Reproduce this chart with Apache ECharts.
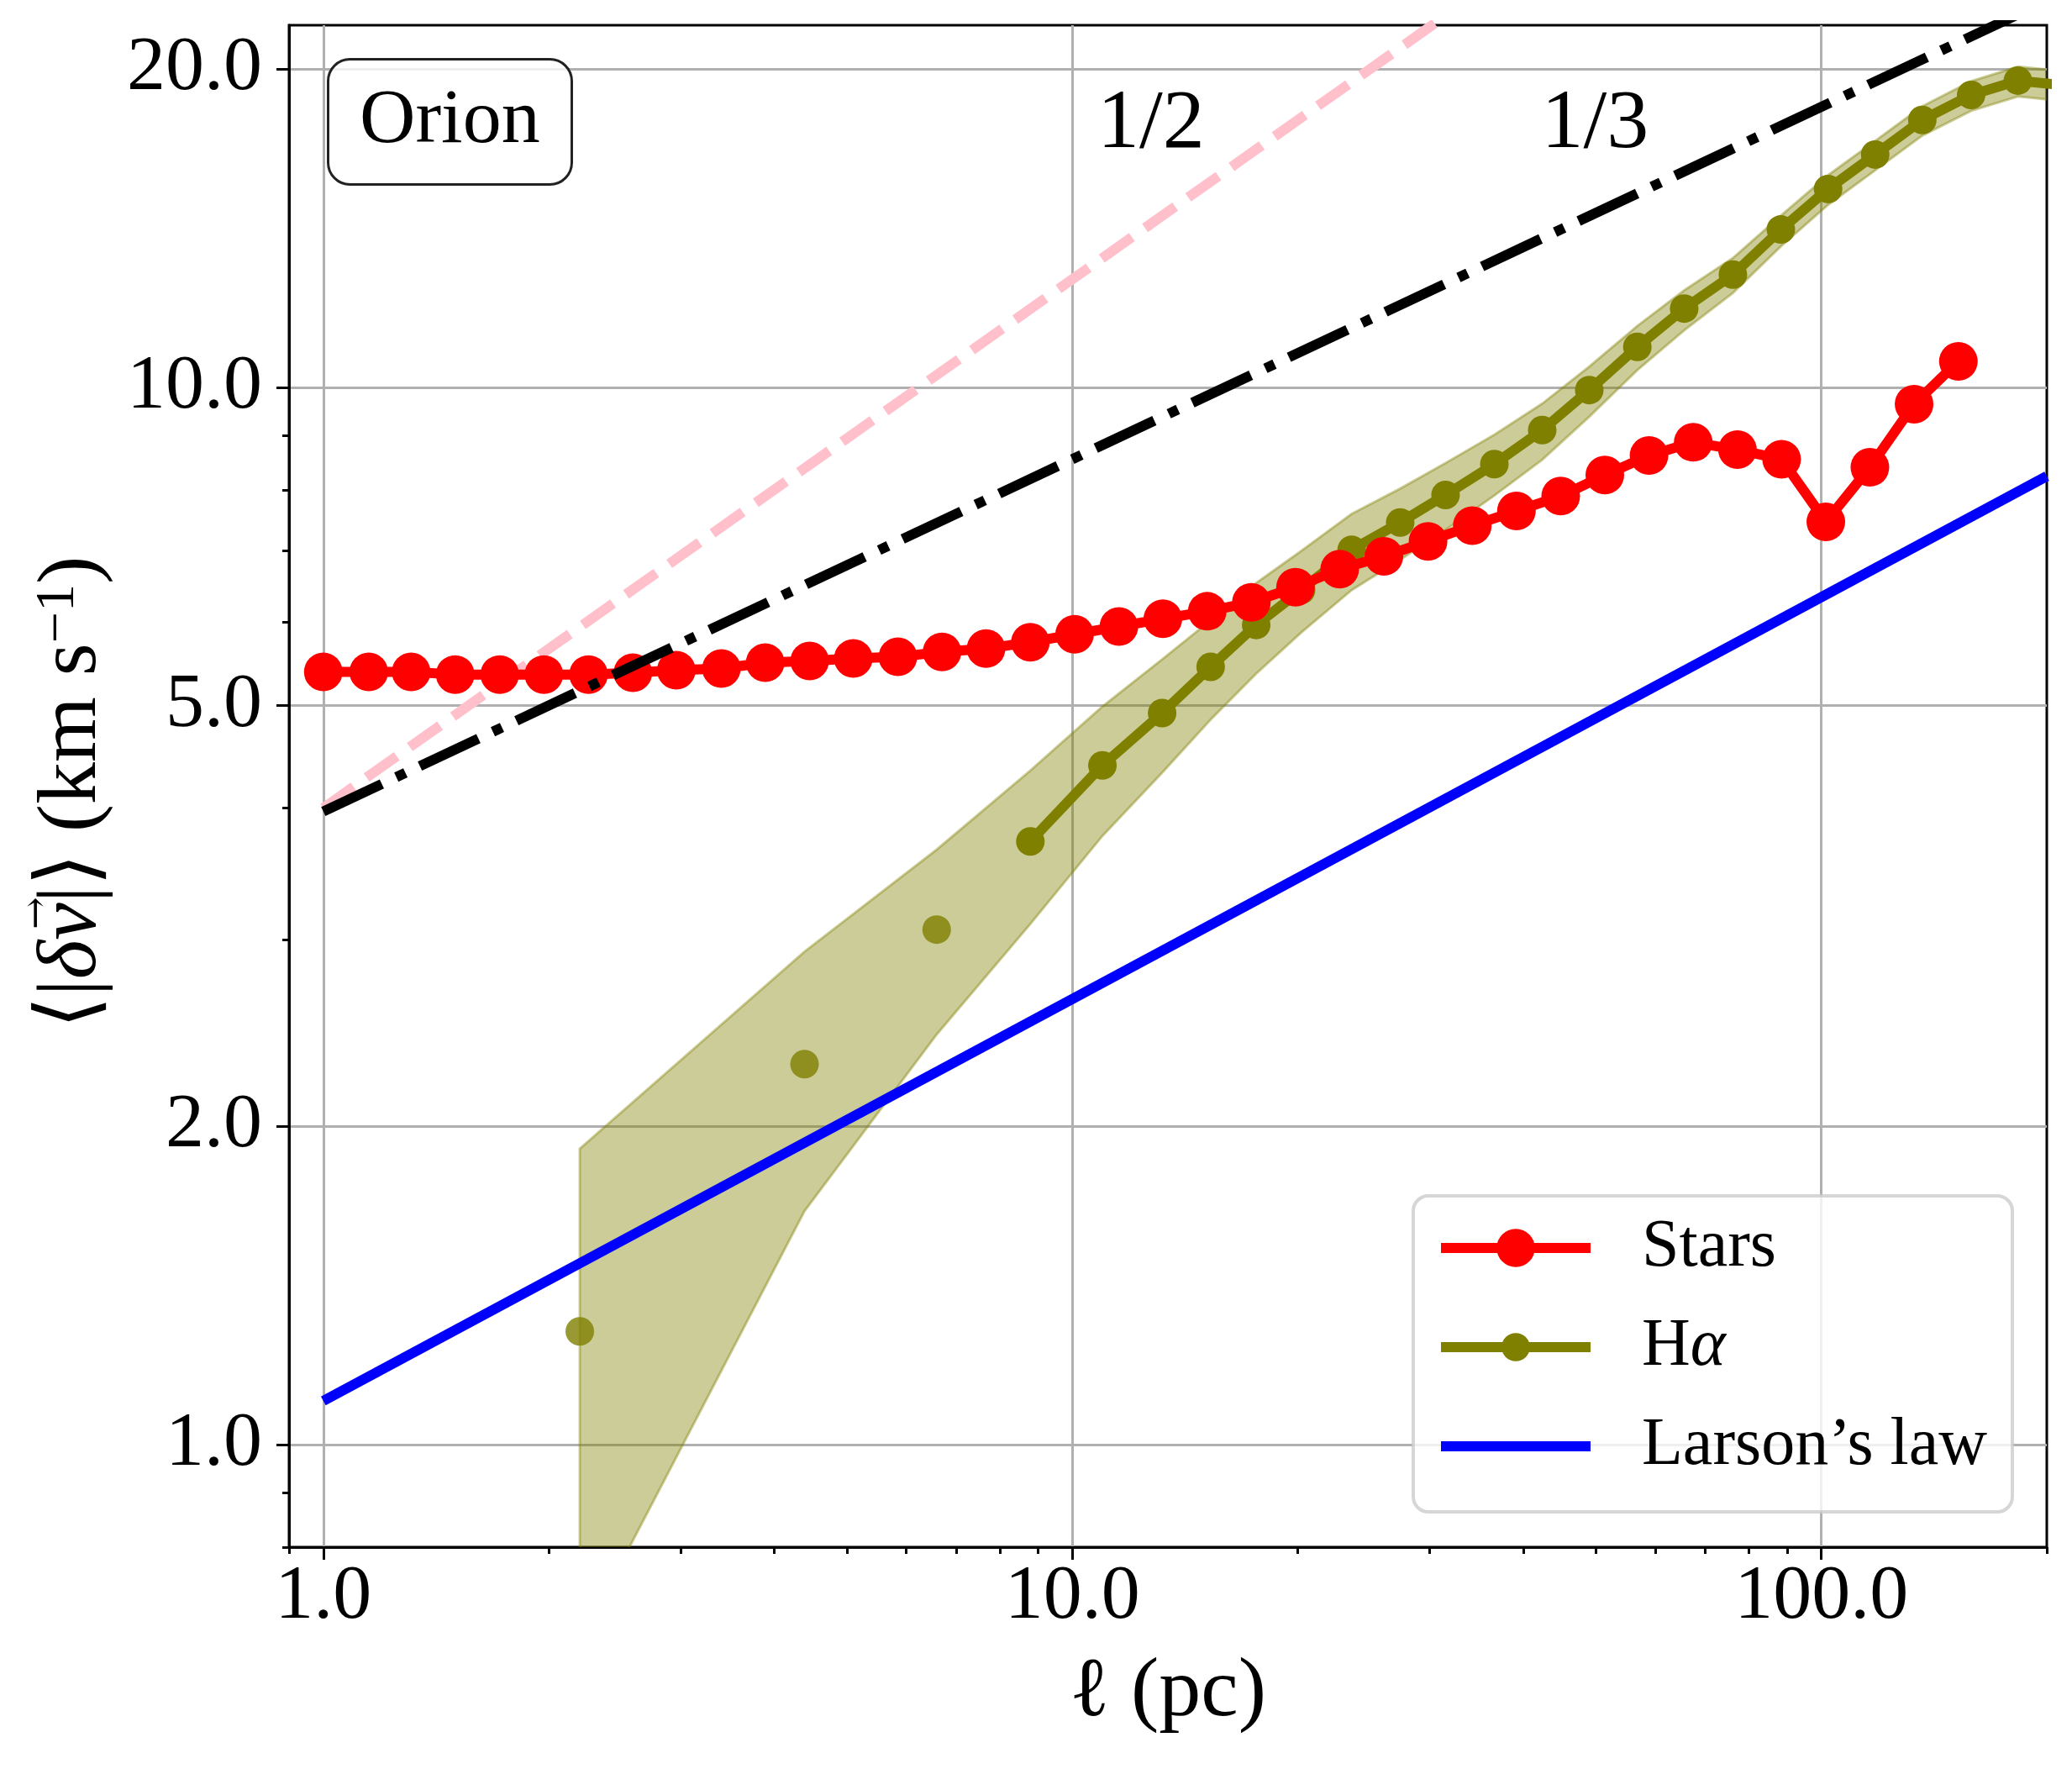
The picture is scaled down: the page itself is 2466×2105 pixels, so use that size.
<!DOCTYPE html>
<html>
<head>
<meta charset="utf-8">
<title>Orion: velocity structure function</title>
<script src="https://cdn.jsdelivr.net/npm/echarts@6.0.0/dist/echarts.min.js"></script>
<style>
  html, body { margin: 0; padding: 0; background: #fff; }
  #chart { width: 2466px; height: 2105px; }
</style>
</head>
<body>
<div id="chart"></div>
<script>
// ---- values ----
// Stars: separation l (pc) and mean |dv| (km/s)
const starsL = [1.0, 1.15, 1.31, 1.5, 1.72, 1.97, 2.26, 2.59, 2.96, 3.4, 3.89, 4.46, 5.1, 5.85, 6.7, 7.67, 8.79,
  10.07, 11.54, 13.21, 15.14, 17.34, 19.86, 22.75, 26.06, 29.85, 34.2, 39.17, 44.88, 51.4, 58.88, 67.45, 77.27,
  88.51, 101.4, 116.1, 133.0, 152.4];
const starsV = [5.38, 5.38, 5.38, 5.35, 5.35, 5.35, 5.35, 5.37, 5.40, 5.42, 5.49, 5.51, 5.54, 5.56, 5.62, 5.66, 5.74,
  5.84, 5.94, 6.04, 6.14, 6.26, 6.47, 6.73, 6.92, 7.15, 7.40, 7.64, 7.89, 8.26, 8.62, 8.87, 8.73,
  8.55, 7.46, 8.40, 9.64, 10.58];

// H-alpha: points, and the shaded range around them
const haL = [2.2, 4.39, 6.59, 8.79, 10.97, 13.18, 15.3, 17.6, 20.2, 23.6, 27.4, 31.5, 36.6, 42.4, 49.0, 56.8,
  65.6, 76.2, 88.3, 102.1, 118.0, 136.4, 158.5, 183.0, 211.0];
const haV = [1.28, 2.29, 3.07, 3.72, 4.39, 4.92, 5.44, 5.96, 6.43, 7.02, 7.45, 7.91, 8.46, 9.11, 9.94, 10.92,
  11.87, 12.78, 14.1, 15.4, 16.6, 17.9, 18.9, 19.5, 19.3];
const haHi = [1.905, 2.926, 3.654, 4.34, 4.99, 5.53, 6.02, 6.53, 7.0, 7.59, 8.02, 8.48, 9.02, 9.65, 10.46, 11.43,
  12.35, 13.25, 14.53, 15.87, 17.1, 18.44, 19.47, 20.1, 19.9];
const haLo = [0.65, 1.663, 2.443, 3.108, 3.765, 4.32, 4.85, 5.36, 5.86, 6.43, 6.87, 7.33, 7.9, 8.54, 9.38, 10.38,
  11.32, 12.28, 13.59, 14.88, 16.04, 17.3, 18.26, 18.84, 18.65];
// the first few H-alpha points stand alone, the line starts at this index
const haLineFrom = 3;

// reference power laws (end points of straight lines in log-log)
const larsonL = [1, 200];
const larsonV = [1.10, 8.24];
const halfL = [1, 200];
const halfV = [4.0, 56.6];
const thirdL = [1, 200];
const thirdV = [3.97, 23.2];

// ticks
const xMajor = [1, 10, 100];
const xMinor = [0.9, 2, 3, 4, 5, 6, 7, 8, 9, 20, 30, 40, 50, 60, 70, 80, 90, 200];
const yMajor = [1, 2, 5, 10, 20];
const yMinor = [0.8, 0.9, 3, 4, 6, 7, 8, 9];

const slopeNotes = [
  { text: '1/2', l: 10.8, v: 17.7 },
  { text: '1/3', l: 42.3, v: 17.7 }
];

// ---- chart ----
const FONT = "'Liberation Serif', 'DejaVu Serif', serif";
const pairs = (xs, ys) => xs.map((x, i) => [x, ys[i]]);
const fmt1 = v => Number(v).toFixed(1);

const spine = { color: '#000', width: 3 };
const gridLine = { show: true, lineStyle: { color: '#b0b0b0', width: 3 } };

function minorAxis(position, min, max, ticks) {
  return {
    type: 'log', min: min, max: max, position: position, offset: 0,
    axisLine: { show: false, onZero: false },
    axisTick: { show: true, customValues: ticks, length: 8, lineStyle: spine },
    axisLabel: { show: false },
    splitLine: { show: false }
  };
}

const legendBase = {
  orient: 'vertical', left: 1709, padding: 0, itemWidth: 178,
  selectedMode: false, z: 12,
  lineStyle: { width: 12 },
  textStyle: {
    fontFamily: FONT, fontSize: 80, lineHeight: 80, color: '#000', padding: [0, 0, 0, 56],
    rich: { i: { fontFamily: FONT, fontSize: 80, fontStyle: 'italic' } }
  }
};

// y-axis title, laid out by hand so the vector arrow can sit over the v
const Y_FS = 100, Y_SUP = 66;
const yTitle = { cx: 87, cy: 943 };
const mctx = document.createElement('canvas').getContext('2d');
function textWidth(t, size, italic) {
  mctx.font = (italic ? 'italic ' : '') + size + 'px ' + FONT;
  return mctx.measureText(t).width;
}
const yPre = textWidth('⟨|', Y_FS) + textWidth('δ', Y_FS, true);
const yV = textWidth('v', Y_FS, true);
const yTotal = yPre + yV + textWidth('|⟩ (km s', Y_FS) + textWidth('−1', Y_SUP) + textWidth(')', Y_FS);
const vCenterY = yTitle.cy + yTotal / 2 - yPre - yV / 2;

const chart = echarts.init(document.getElementById('chart'));

chart.setOption({
  animation: false,
  backgroundColor: '#fff',
  textStyle: { fontFamily: FONT },
  grid: {
    left: 344, right: 30, top: 30, bottom: 264,
    show: true, borderColor: '#000', borderWidth: 3, backgroundColor: 'transparent'
  },
  title: {
    text: 'Orion', left: 390, top: 70, padding: [27, 38],
    borderColor: '#222', borderWidth: 3, borderRadius: 26, backgroundColor: 'rgba(255,255,255,0.8)',
    textStyle: { fontFamily: FONT, fontSize: 92, lineHeight: 96, fontWeight: 'normal', color: '#000' }
  },
  xAxis: [
    {
      type: 'log', min: 0.9, max: 200, position: 'bottom',
      axisLine: { show: true, onZero: false, lineStyle: spine },
      axisTick: { show: true, customValues: xMajor, length: 15, lineStyle: spine },
      axisLabel: { customValues: xMajor, formatter: fmt1, fontFamily: FONT, fontSize: 92, color: '#000', margin: 14 },
      splitLine: gridLine,
      name: 'ℓ (pc)', nameLocation: 'middle', nameGap: 124,
      nameTextStyle: { fontFamily: FONT, fontSize: 100, color: '#000' }
    },
    minorAxis('bottom', 0.9, 200, xMinor)
  ],
  yAxis: [
    {
      type: 'log', min: 0.8, max: 22, position: 'left',
      axisLine: { show: true, onZero: false, lineStyle: spine },
      axisTick: { show: true, customValues: yMajor, length: 15, lineStyle: spine },
      axisLabel: { customValues: yMajor, formatter: fmt1, fontFamily: FONT, fontSize: 92, color: '#000', margin: 32 },
      splitLine: gridLine
    },
    minorAxis('left', 0.8, 22, yMinor)
  ],
  legend: [
    Object.assign({}, legendBase, { data: ['Stars'], top: 1445, itemHeight: 57 }),
    Object.assign({}, legendBase, { data: ['Hα'], top: 1563, itemHeight: 42, formatter: () => 'H{i|α}' }),
    Object.assign({}, legendBase, {
      data: ["Larson's law"], top: 1681, itemHeight: 20, itemStyle: { opacity: 0 },
      formatter: () => 'Larson’s law'
    })
  ],
  graphic: [
    {
      id: 'legendBox', type: 'rect', z: 10, silent: true,
      shape: { x: 1682, y: 1423, width: 713, height: 376, r: 18 },
      style: { fill: 'rgba(255,255,255,0.8)', stroke: 'rgba(204,204,204,0.8)', lineWidth: 4 }
    },
    {
      id: 'yTitle', type: 'text', z: 10, silent: true,
      x: yTitle.cx, y: yTitle.cy, rotation: Math.PI / 2,
      style: {
        text: '⟨|{i|δv}|⟩ (km s{sup|−1})',
        font: Y_FS + 'px ' + FONT, fill: '#000', align: 'center', verticalAlign: 'middle',
        rich: {
          i: { font: 'italic ' + Y_FS + 'px ' + FONT, fill: '#000' },
          sup: { font: Y_SUP + 'px ' + FONT, fill: '#000', verticalAlign: 'top' }
        }
      }
    },
    {
      id: 'yArrow', type: 'text', z: 10, silent: true,
      x: yTitle.cx - 42, y: vCenterY - 10, rotation: Math.PI / 2,
      style: { text: '→', font: '46px DejaVu Serif', fill: '#000', align: 'center', verticalAlign: 'middle' }
    }
  ],
  series: [
    {
      name: 'Hα range', type: 'custom', clip: true, silent: true, z: 1,
      data: [[1, 1]],
      renderItem: function (params, api) {
        const upper = haL.map((x, i) => api.coord([x, haHi[i]]));
        const lower = haL.map((x, i) => api.coord([x, haLo[i]])).reverse();
        return {
          type: 'polygon',
          shape: { points: upper.concat(lower) },
          style: { fill: 'rgba(128,128,0,0.4)', stroke: 'rgba(128,128,0,0.4)', lineWidth: 3 }
        };
      }
    },
    {
      name: 'Hα', type: 'line', z: 2,
      data: pairs(haL.slice(haLineFrom), haV.slice(haLineFrom)),
      symbol: 'circle', symbolSize: 34,
      itemStyle: { color: '#808000' },
      lineStyle: { color: '#808000', width: 12 }
    },
    {
      name: 'Hα (single points)', type: 'scatter', z: 2,
      data: pairs(haL.slice(0, haLineFrom), haV.slice(0, haLineFrom)),
      symbol: 'circle', symbolSize: 34,
      itemStyle: { color: '#808000' }
    },
    {
      name: "Larson's law", type: 'line', z: 3,
      data: pairs(larsonL, larsonV),
      symbol: 'none',
      itemStyle: { color: '#0000ff' },
      lineStyle: { color: '#0000ff', width: 12 }
    },
    {
      name: 'slope 1/2', type: 'line', z: 3,
      data: pairs(halfL, halfV),
      symbol: 'none',
      lineStyle: { color: '#ffc0cb', width: 12, type: [44, 19] }
    },
    {
      name: 'Stars', type: 'line', z: 4,
      data: pairs(starsL, starsV),
      symbol: 'circle', symbolSize: 46,
      itemStyle: { color: '#ff0000' },
      lineStyle: { color: '#ff0000', width: 12 }
    },
    {
      name: 'slope 1/3', type: 'line', z: 5,
      data: pairs(thirdL, thirdV),
      symbol: 'none',
      lineStyle: { color: '#000', width: 12, type: [77, 19, 12, 19] }
    }
  ]
});

// slope labels, placed in data coordinates through the axes
chart.setOption({
  graphic: slopeNotes.map((n, i) => {
    const p = chart.convertToPixel({ gridIndex: 0 }, [n.l, n.v]);
    return {
      id: 'slopeNote' + i, type: 'text', z: 6, silent: true, x: p[0], y: p[1],
      style: { text: n.text, font: '100px ' + FONT, fill: '#000', align: 'left', verticalAlign: 'middle' }
    };
  })
});
</script>
</body>
</html>
